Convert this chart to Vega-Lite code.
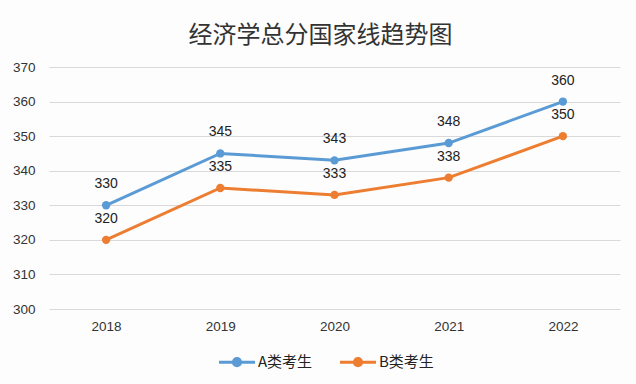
{
  "$schema": "https://vega.github.io/schema/vega-lite/v6.json",
  "autosize": "none",
  "width": 571,
  "height": 242,
  "padding": {"left": 49, "top": 67, "right": 16, "bottom": 75},
  "background": "#fdfdfd",
  "title": {
    "text": "经济学总分国家线趋势图",
    "font": "Noto Sans CJK SC",
    "fontSize": 24,
    "fontWeight": "normal",
    "color": "#333333",
    "anchor": "middle",
    "dx": -14,
    "offset": 12
  },
  "config": {
    "view": {"stroke": null},
    "font": "Liberation Sans"
  },
  "data": {
    "values": [
      {"year": "2018", "series": "A类考生", "score": 330},
      {"year": "2019", "series": "A类考生", "score": 345},
      {"year": "2020", "series": "A类考生", "score": 343},
      {"year": "2021", "series": "A类考生", "score": 348},
      {"year": "2022", "series": "A类考生", "score": 360},
      {"year": "2018", "series": "B类考生", "score": 320},
      {"year": "2019", "series": "B类考生", "score": 335},
      {"year": "2020", "series": "B类考生", "score": 333},
      {"year": "2021", "series": "B类考生", "score": 338},
      {"year": "2022", "series": "B类考生", "score": 350}
    ]
  },
  "encoding": {
    "x": {
      "field": "year", "type": "ordinal", "title": null,
      "scale": {"type": "point", "padding": 0.5},
      "axis": {"labelAngle": 0, "domain": false, "ticks": false, "labelFontSize": 13.5, "labelColor": "#333333", "labelPadding": 10, "grid": false}
    },
    "y": {
      "field": "score", "type": "quantitative", "title": null,
      "scale": {"domain": [300, 370], "nice": false, "zero": false},
      "axis": {"values": [300, 310, 320, 330, 340, 350, 360, 370], "domain": false, "ticks": false, "labelFontSize": 13.5, "labelColor": "#333333", "labelPadding": 14, "gridColor": "#d9d9d9", "gridWidth": 1}
    },
    "color": {
      "field": "series", "type": "nominal", "title": null,
      "scale": {"domain": ["A类考生", "B类考生"], "range": ["#5B9BD5", "#ED7D31"]},
      "legend": {
        "orient": "none",
        "direction": "horizontal",
        "legendX": 168,
        "legendY": 275,
        "symbolType": "M-1,0L1,0M0.2,0A0.2,0.2 0 1,1 -0.2,0A0.2,0.2 0 1,1 0.2,0Z",
        "symbolSize": 1300,
        "symbolStrokeWidth": 3,
        "labelFont": "Noto Sans CJK SC",
        "labelFontSize": 15,
        "labelColor": "#222222",
        "labelOffset": 1,
        "columnPadding": 20,
        "encode": {"symbols": {"update": {"fill": {"scale": "color", "field": "value"}, "stroke": {"scale": "color", "field": "value"}}}}
      }
    }
  },
  "layer": [
    {"mark": {"type": "line", "strokeWidth": 3}},
    {"mark": {"type": "point", "filled": true, "size": 70, "opacity": 1}},
    {
      "mark": {"type": "text", "dy": -21, "fontSize": 14, "color": "#222222"},
      "encoding": {"text": {"field": "score"}, "color": {"value": "#222222"}}
    }
  ]
}
